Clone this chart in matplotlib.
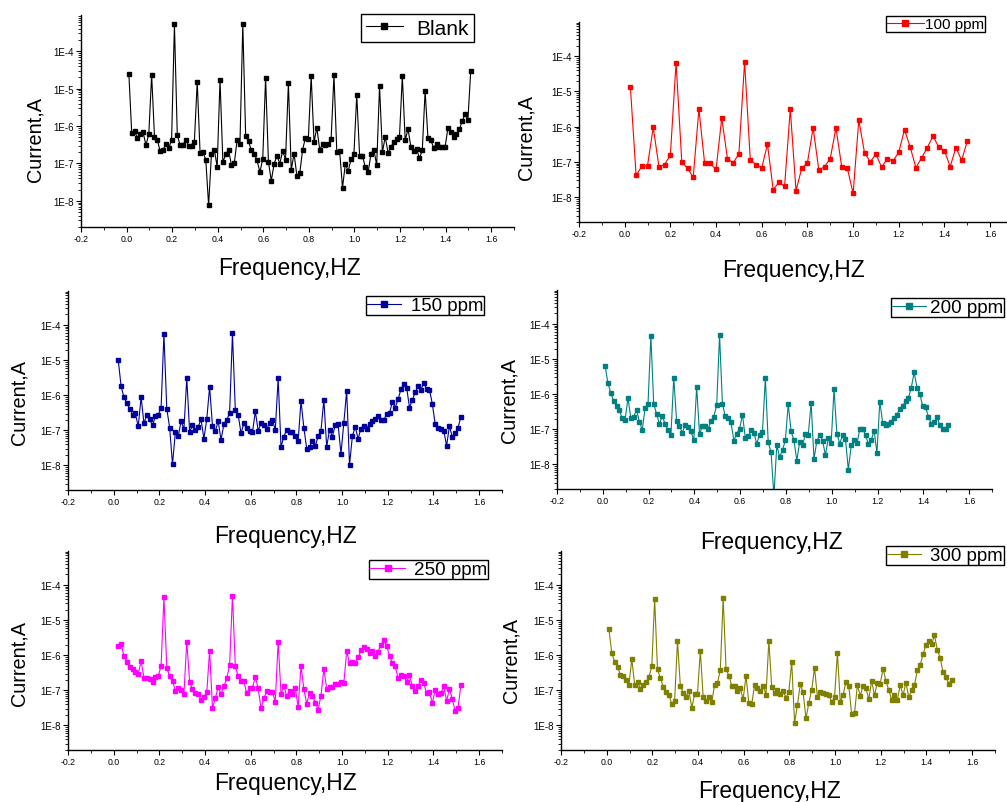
import numpy as np
import matplotlib
matplotlib.use('Agg')
import matplotlib.pyplot as plt
from matplotlib.ticker import LogLocator, MultipleLocator, NullFormatter, FuncFormatter

plt.rcParams['font.family'] = ['Liberation Sans', 'DejaVu Sans']

# ---- data: log10 of current (A) ----
# frequency grid: step 0.0125 Hz (0.025 Hz for 100 ppm)
blank_log = [
    -4.60, -6.18, -6.12, -6.33, -6.20, -6.17, -6.51, -6.22, -4.63, -6.29,
    -6.37, -6.68, -6.63, -6.49, -6.60, -6.37, -3.28, -6.25, -6.51, -6.51,
    -6.36, -6.53, -6.54, -6.42, -4.81, -6.72, -6.70, -6.90, -8.12, -6.74,
    -6.63, -7.09, -4.76, -6.96, -6.76, -6.63, -7.04, -7.00, -6.38, -6.47,
    -3.28, -6.26, -6.41, -6.65, -6.74, -6.92, -7.23, -6.88, -4.71, -6.96,
    -7.46, -7.01, -6.79, -7.01, -6.66, -6.90, -4.85, -7.17, -6.74, -7.34,
    -7.26, -6.63, -6.31, -6.35, -4.66, -6.43, -6.05, -6.63, -6.49, -6.52,
    -6.48, -6.35, -4.64, -6.69, -6.68, -7.65, -7.01, -7.21, -6.88, -6.76,
    -5.17, -6.79, -6.79, -7.10, -7.24, -6.74, -6.63, -7.05, -4.93, -6.70,
    -6.29, -6.72, -6.55, -6.44, -6.34, -6.28, -4.66, -6.38, -6.08, -6.56,
    -6.66, -6.61, -6.86, -6.65, -5.06, -6.33, -6.38, -6.58, -6.47, -6.55,
    -6.56, -6.57, -6.05, -6.17, -6.28, -6.22, -6.09, -5.87, -5.68, -5.85, -4.54]

ppm100_log = [
    -4.88, -7.38, -7.12, -7.10, -6.02, -7.13, -7.07, -6.80, -4.18, -7.00,
    -7.18, -7.43, -5.50, -7.04, -7.04, -7.21, -5.75, -6.91, -7.02, -6.77,
    -4.16, -6.95, -7.07, -7.17, -6.49, -7.78, -7.58, -7.69, -5.50, -7.81,
    -7.18, -7.02, -6.03, -7.23, -7.13, -6.90, -6.03, -7.13, -7.18, -7.89,
    -5.81, -6.74, -6.99, -6.78, -7.15, -6.90, -6.97, -6.72, -6.08, -6.58,
    -7.16, -6.88, -6.59, -6.26, -6.58, -6.68, -7.13, -6.59, -6.95, -6.41]

ppm150_log = [
    -5.00, -5.75, -6.06, -6.23, -6.38, -6.55, -6.52, -6.89, -6.05, -6.80,
    -6.56, -6.69, -6.86, -6.60, -6.55, -6.36, -4.25, -6.39, -6.92, -7.97,
    -7.05, -7.17, -6.74, -6.97, -5.51, -7.04, -6.86, -7.00, -6.90, -6.69,
    -7.24, -6.68, -5.76, -6.87, -7.02, -6.74, -7.27, -6.82, -6.70, -6.51,
    -4.24, -6.42, -6.56, -7.08, -6.80, -6.94, -7.03, -7.06, -6.46, -7.01,
    -6.80, -6.85, -6.97, -6.78, -6.70, -6.99, -5.52, -7.47, -7.18, -6.98,
    -7.06, -7.04, -7.16, -7.31, -6.16, -6.92, -7.52, -7.47, -7.29, -7.45,
    -7.17, -7.01, -6.13, -7.47, -6.98, -7.18, -6.84, -6.83, -7.67, -6.79,
    -5.87, -7.99, -7.16, -6.90, -7.24, -6.95, -6.87, -6.95, -6.81, -6.72,
    -6.69, -6.58, -6.70, -6.70, -6.54, -6.52, -6.18, -6.35, -6.12, -5.83,
    -5.68, -5.78, -6.35, -6.13, -5.92, -5.73, -5.84, -5.65, -5.83, -5.84,
    -6.25, -6.82, -6.94, -6.96, -7.01, -7.44, -6.87, -7.20, -7.09, -6.92, -6.62]

ppm200_log = [
    -5.19, -5.68, -5.97, -6.19, -6.34, -6.46, -6.69, -6.72, -6.11, -6.68,
    -6.64, -6.44, -6.79, -7.01, -6.39, -6.28, -4.34, -6.28, -6.56, -6.85,
    -6.61, -6.86, -7.02, -7.16, -5.53, -6.77, -6.91, -7.10, -6.87, -6.93,
    -7.06, -7.31, -5.79, -7.13, -6.91, -6.91, -6.99, -6.77, -6.64, -6.31,
    -4.31, -6.27, -6.63, -6.69, -6.80, -7.32, -7.12, -6.99, -6.58, -7.24,
    -7.20, -7.03, -7.10, -7.41, -7.15, -7.07, -5.53, -7.36, -7.66, -8.90,
    -7.45, -7.79, -7.59, -7.31, -6.28, -7.06, -7.31, -7.89, -7.36, -7.46,
    -7.13, -7.16, -6.24, -7.85, -7.33, -7.17, -7.32, -7.74, -7.24, -7.38,
    -5.86, -7.12, -7.41, -7.15, -7.28, -8.15, -7.46, -7.31, -7.40, -7.00,
    -6.98, -7.17, -7.41, -7.31, -7.04, -7.67, -6.21, -6.81, -6.87, -6.85,
    -6.78, -6.69, -6.58, -6.41, -6.33, -6.20, -6.11, -5.81, -5.38, -5.81,
    -6.00, -6.34, -6.37, -6.64, -6.85, -6.80, -6.65, -6.89, -7.00, -6.98, -6.87]

ppm250_log = [
    -5.75, -5.68, -6.02, -6.18, -6.33, -6.40, -6.48, -6.53, -6.16, -6.65,
    -6.66, -6.67, -6.75, -6.61, -6.60, -6.30, -4.35, -6.35, -6.60, -6.73,
    -7.02, -6.92, -6.98, -7.10, -5.61, -6.76, -6.97, -7.09, -7.11, -7.27,
    -7.20, -7.05, -5.87, -7.50, -7.22, -6.91, -7.10, -6.89, -6.65, -6.29,
    -4.30, -6.32, -6.59, -6.74, -6.74, -7.09, -6.93, -6.92, -6.63, -6.93,
    -7.51, -7.23, -7.03, -7.04, -7.06, -7.32, -5.61, -7.10, -6.88, -7.15,
    -7.03, -7.11, -6.93, -7.48, -6.30, -6.96, -7.38, -7.08, -7.16, -7.35,
    -7.55, -7.15, -6.40, -6.95, -6.91, -6.90, -6.81, -6.83, -6.76, -6.80,
    -5.89, -6.22, -6.18, -6.22, -6.06, -5.86, -5.76, -5.83, -5.95, -5.88,
    -6.01, -5.90, -5.70, -5.56, -5.73, -6.01, -6.22, -6.32, -6.65, -6.57,
    -6.58, -6.76, -6.57, -6.88, -7.02, -6.87, -6.70, -6.80, -7.09, -7.05,
    -7.36, -7.00, -7.10, -7.09, -6.89, -7.30, -6.95, -7.25, -7.59, -7.50, -6.84]

ppm300_log = [
    -5.26, -5.95, -6.18, -6.33, -6.55, -6.59, -6.70, -6.84, -6.11, -6.84,
    -6.77, -6.95, -6.86, -6.77, -6.62, -6.32, -4.40, -6.40, -6.65, -6.90,
    -7.06, -7.12, -7.39, -7.29, -5.59, -6.87, -7.07, -7.19, -7.01, -7.50,
    -7.11, -7.11, -5.87, -7.20, -7.30, -7.20, -7.34, -6.84, -6.80, -6.41,
    -4.37, -6.38, -6.59, -6.87, -6.87, -7.03, -6.94, -7.25, -6.59, -7.37,
    -7.39, -6.86, -6.92, -7.01, -6.87, -7.12, -5.59, -6.91, -7.09, -6.99,
    -7.11, -7.02, -7.21, -7.04, -6.19, -7.93, -7.42, -6.83, -7.06, -7.80,
    -7.36, -6.99, -6.35, -7.19, -7.05, -7.08, -7.10, -7.14, -7.33, -7.20,
    -5.93, -7.32, -7.13, -6.75, -6.87, -7.68, -7.65, -6.85, -7.15, -6.87,
    -6.94, -7.25, -6.73, -7.14, -6.78, -6.81, -6.38, -6.74, -6.99, -7.28,
    -7.12, -7.28, -6.85, -7.14, -6.78, -7.20, -6.99, -6.85, -6.43, -6.28,
    -5.97, -5.72, -5.59, -5.69, -5.43, -5.85, -6.07, -6.49, -6.61, -6.81, -6.71]

names = ['Blank', '100 ppm', '150 ppm', '200 ppm', '250 ppm', '300 ppm']
series = [blank_log, ppm100_log, ppm150_log, ppm200_log, ppm250_log, ppm300_log]
freq_start = [0.01, 0.025, 0.02, 0.01, 0.02, 0.01]
freq_step = [0.0125, 0.025, 0.0125, 0.0125, 0.0125, 0.0125]
colors = ['black', '#ff0000', '#00009c', '#008080', '#ff00ff', '#808000']

# ---- layout (pixels) ----
W, H = 1007, 803
# axes: left, right, top, bottom
boxes = [(81, 514, 16, 228), (579, 1013, 23, 223), (68, 502, 292, 491),
         (557, 992, 291, 490), (68, 502, 552, 751), (561, 995, 552, 751)]
# legend: left, top, fontsize, handlelength, handletextpad, borderpad
legends = [(361, 15, 15, 1.8, 0.65, 0.22), (886, 17, 11, 2.4, 0.1, 0.06),
           (366, 297, 13.4, 1.8, 0.55, 0.06), (891, 299, 13.6, 1.8, 0.2, 0.06),
           (369, 561, 13.6, 1.85, 0.45, 0.06), (886, 547, 13.4, 1.8, 0.5, 0.06)]
ylab_pos = [(35, 140), (526, 137), (19, 403), (509, 401), (19, 664), (511, 661)]
xlab_pos = [(290, 268), (794, 270), (286, 537), (771, 543), (286, 784), (769, 792)]


def fig_rect(l, r, t, b):
    return [l / W, 1 - b / H, (r - l) / W, (b - t) / H]


def xfmt(v, pos):
    s = '%.1f' % v
    return '0.0' if s == '-0.0' else s


fig = plt.figure(figsize=(W / 100, H / 100), dpi=100)

for i in range(6):
    ax = fig.add_axes(fig_rect(*boxes[i]))
    vals = np.array(series[i])
    x = np.round(freq_start[i] + freq_step[i] * np.arange(len(vals)), 4)
    c = colors[i]
    ax.plot(x, 10.0 ** vals, '-s', color=c, lw=0.8, ms=3.0, mec=c, label=names[i])

    ax.set_yscale('log')
    ax.set_xlim(-0.2, 1.7)
    ax.set_ylim(10 ** -8.70, 10 ** -3.03)

    ax.yaxis.set_major_locator(LogLocator(base=10, numticks=20))
    ax.yaxis.set_minor_locator(LogLocator(base=10, subs=np.arange(2, 10), numticks=20))
    ax.yaxis.set_major_formatter(FuncFormatter(lambda v, p: '1E%d' % int(round(np.log10(v)))))
    ax.yaxis.set_minor_formatter(NullFormatter())
    ax.xaxis.set_major_locator(MultipleLocator(0.2))
    ax.xaxis.set_minor_locator(MultipleLocator(0.1))
    ax.xaxis.set_major_formatter(FuncFormatter(xfmt))

    for s in ['top', 'right']:
        ax.spines[s].set_visible(False)
    for s in ['left', 'bottom']:
        ax.spines[s].set_linewidth(1.0)
    ax.tick_params(which='major', direction='out', length=3.5, width=0.8, pad=1.5)
    ax.tick_params(which='minor', direction='out', length=2, width=0.6)
    ax.tick_params(axis='y', labelsize=7)
    ax.tick_params(axis='x', labelsize=6.3)

    lx, ly, fs, hl, hp, bp = legends[i]
    leg = ax.legend(loc='upper left', bbox_to_anchor=(lx / W, 1 - ly / H),
                    bbox_transform=fig.transFigure, borderaxespad=0,
                    fancybox=False, edgecolor='black', framealpha=1,
                    fontsize=fs, handlelength=hl, handletextpad=hp,
                    borderpad=bp, markerscale=1.5, numpoints=1)
    leg.get_frame().set_linewidth(1.0)

    fig.text(ylab_pos[i][0] / W, 1 - ylab_pos[i][1] / H, 'Current,A',
             rotation=90, ha='center', va='center', fontsize=14.3)
    fig.text(xlab_pos[i][0] / W, 1 - xlab_pos[i][1] / H, 'Frequency,HZ',
             ha='center', va='center', fontsize=16.4)

fig.savefig('out.png', dpi=100)
